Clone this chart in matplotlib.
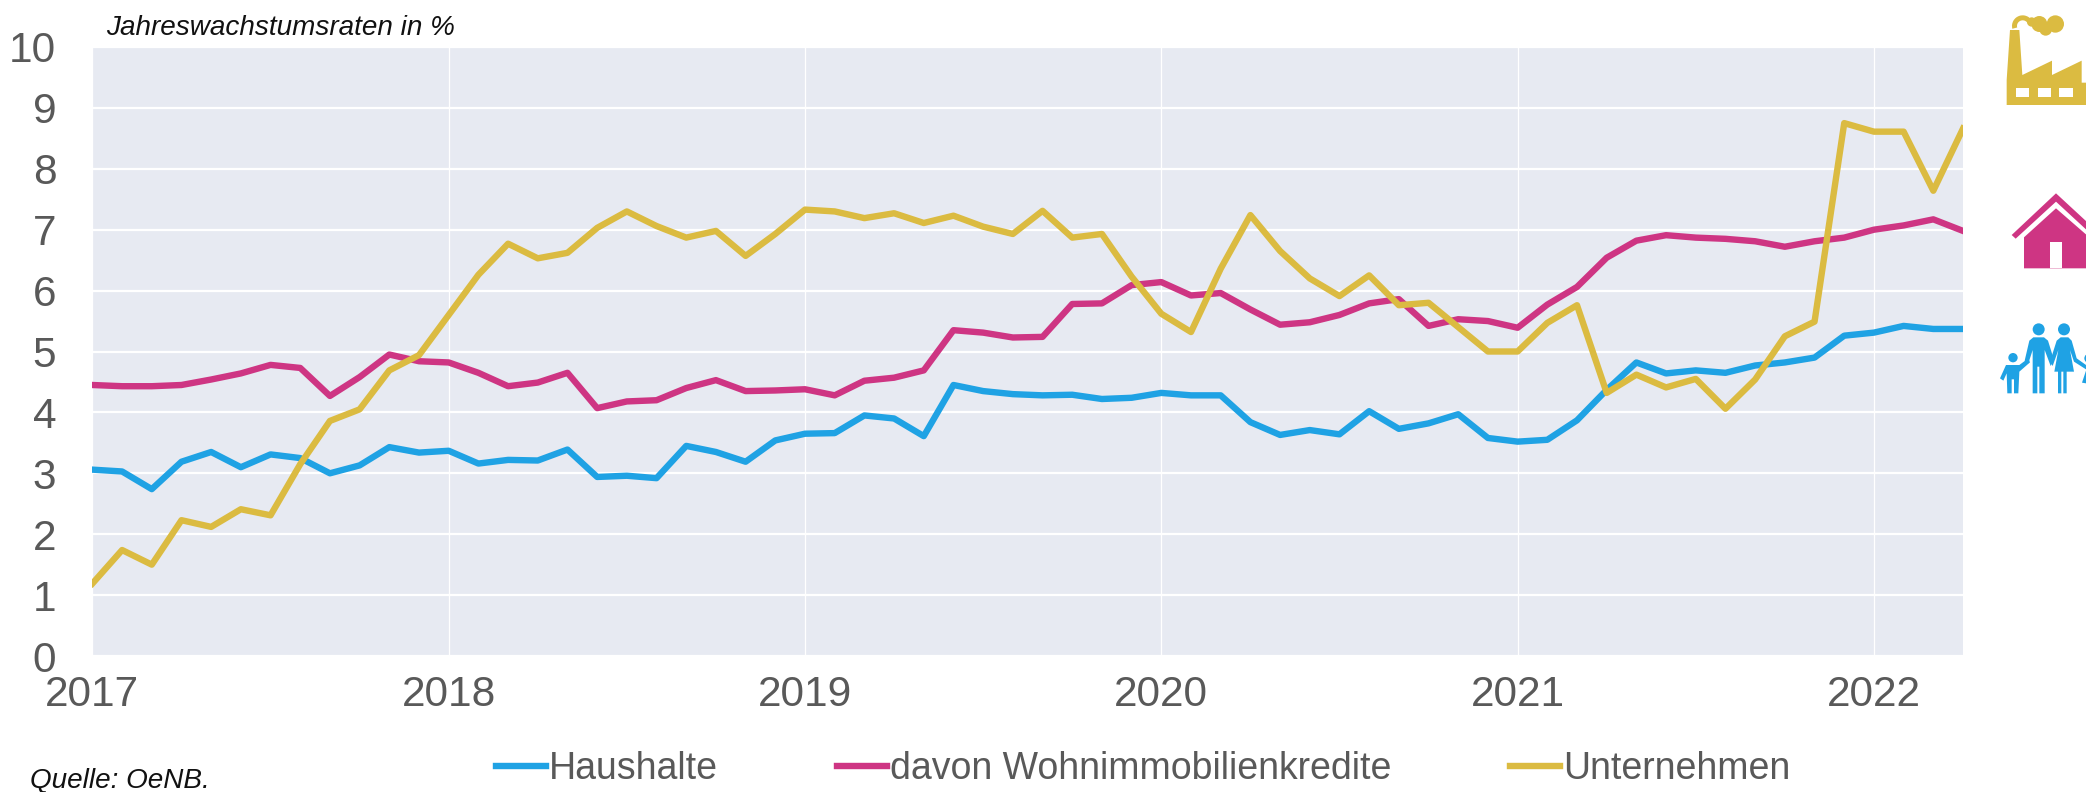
import matplotlib
matplotlib.use("Agg")
import matplotlib.pyplot as plt
from matplotlib.patches import Circle, Polygon, Rectangle, Wedge

plt.rcParams["font.family"] = ["Liberation Sans", "DejaVu Sans"]

jahre = ["2017", "2018", "2019", "2020", "2021", "2022"]

# Monatswerte Jan 2017 - Apr 2022
haushalte = [3.06, 3.03, 2.74, 3.19, 3.35, 3.10, 3.31, 3.25, 3.00, 3.13, 3.43, 3.34,
             3.37, 3.16, 3.22, 3.21, 3.39, 2.94, 2.96, 2.92, 3.45, 3.35, 3.19, 3.54,
             3.65, 3.66, 3.95, 3.90, 3.61, 4.45, 4.35, 4.30, 4.28, 4.29, 4.22, 4.24,
             4.32, 4.28, 4.28, 3.84, 3.63, 3.71, 3.64, 4.02, 3.73, 3.82, 3.97, 3.58,
             3.52, 3.55, 3.87, 4.37, 4.82, 4.64, 4.69, 4.65, 4.77, 4.82, 4.90, 5.26,
             5.31, 5.42, 5.37, 5.37]
wohnkredite = [4.45, 4.43, 4.43, 4.45, 4.54, 4.64, 4.78, 4.73, 4.27, 4.58, 4.95, 4.84,
               4.82, 4.65, 4.43, 4.49, 4.65, 4.07, 4.18, 4.20, 4.40, 4.53, 4.35, 4.36,
               4.38, 4.28, 4.52, 4.57, 4.69, 5.35, 5.31, 5.23, 5.24, 5.78, 5.79, 6.09,
               6.14, 5.92, 5.96, 5.69, 5.44, 5.48, 5.60, 5.79, 5.86, 5.42, 5.53, 5.50,
               5.39, 5.77, 6.06, 6.54, 6.82, 6.91, 6.87, 6.85, 6.81, 6.72, 6.81, 6.87,
               7.00, 7.07, 7.17, 6.98]
unternehmen = [1.19, 1.74, 1.50, 2.23, 2.12, 2.41, 2.31, 3.15, 3.86, 4.05, 4.69, 4.94,
               5.60, 6.26, 6.77, 6.53, 6.62, 7.03, 7.30, 7.06, 6.87, 6.98, 6.57, 6.93,
               7.33, 7.30, 7.19, 7.27, 7.11, 7.23, 7.05, 6.93, 7.31, 6.87, 6.93, 6.23,
               5.62, 5.32, 6.36, 7.24, 6.65, 6.20, 5.91, 6.25, 5.76, 5.80, 5.40, 5.00,
               5.00, 5.47, 5.76, 4.32, 4.62, 4.41, 4.55, 4.06, 4.54, 5.25, 5.49, 8.75,
               8.61, 8.61, 7.64, 8.66]

monate = list(range(len(haushalte)))

BLAU = "#1FA2E4"
PINK = "#CE3583"
GELB = "#DBBB41"
GRAU = "#595959"

fig = plt.figure(figsize=(20.86, 7.92), dpi=100)
ax = fig.add_axes([92.4 / 2086, 1 - 656 / 792, (1963 - 92.4) / 2086, (656 - 47) / 792])
ax.set_facecolor("#E7EAF2")

ax.plot(monate, haushalte, color=BLAU, linewidth=4.6, label="Haushalte")
ax.plot(monate, wohnkredite, color=PINK, linewidth=4.6, label="davon Wohnimmobilienkredite")
ax.plot(monate, unternehmen, color=GELB, linewidth=4.6, label="Unternehmen")

ax.set_xlim(0, monate[-1])
ax.set_ylim(0, 10)
ax.set_yticks(range(11))
ax.set_xticks(monate[::12])
ax.set_xticklabels(jahre)
ax.tick_params(length=0, labelsize=30.5, labelcolor=GRAU)
ax.tick_params(axis="x", pad=14)
ax.tick_params(axis="y", pad=26)
ax.grid(axis="y", color="white", linewidth=1.6)
ax.grid(axis="x", color="white", linewidth=0.9)
ax.set_axisbelow(True)
for s in ax.spines.values():
    s.set_visible(False)

fig.legend(loc="center", bbox_to_anchor=(1143 / 2086, 1 - 769 / 792), ncol=3, frameon=False,
           fontsize=27, labelcolor=GRAU, handlelength=1.33, handletextpad=0.08,
           columnspacing=3.17, borderpad=0, borderaxespad=0)

fig.text(106 / 2086, 1 - 28 / 792, "Jahreswachstumsraten in %", fontsize=20.1, style="italic",
         color="#111111", va="center")
fig.text(30 / 2086, 1 - 781 / 792, "Quelle: OeNB.", fontsize=20.1, style="italic",
         color="#111111", va="center")

# Symbole rechts, Koordinaten in Pixel des Bildes
deko = fig.add_axes([0, 0, 1, 1])
deko.set_xlim(0, 2086)
deko.set_ylim(792, 0)
deko.axis("off")


def px(punkte):
    return [(1900 + x / 3, y / 3) for x, y in punkte]


def flaeche(punkte, farbe):
    deko.add_patch(Polygon(px(punkte), closed=True, facecolor=farbe, edgecolor="none"))


def kreis(x, y, r, farbe):
    deko.add_patch(Circle((1900 + x / 3, y / 3), r / 3, facecolor=farbe, edgecolor="none"))


# Fabrik
flaeche([(320, 315), (320, 240), (330, 90), (358, 90), (367, 225), (456, 182), (456, 225),
         (545, 182), (545, 248), (558, 248), (558, 315)], GELB)
for x0 in [347, 413, 478]:
    deko.add_patch(Rectangle((1900 + x0 / 3, 263 / 3), 40 / 3, 29 / 3, facecolor="white", edgecolor="none"))
deko.add_patch(Wedge((1900 + 368 / 3, 78 / 3), 32 / 3, 165, 345, width=15 / 3, facecolor=GELB, edgecolor="none"))
kreis(418, 72, 24, GELB)
kreis(437, 88, 19, GELB)
kreis(466, 72, 26, GELB)
kreis(395, 66, 14, GELB)

# Haus
flaeche([(335, 705), (468, 580), (560, 665), (560, 690), (468, 605), (347, 716)], PINK)
flaeche([(372, 805), (372, 712), (468, 625), (560, 705), (560, 805)], PINK)
flaeche([(450, 727), (487, 727), (487, 805), (450, 805)], "white")

# Familie
kreis(416, 988, 18, BLAU)
kreis(492, 988, 18, BLAU)
kreis(339, 1073, 14, BLAU)
kreis(567, 1075, 14, BLAU)
flaeche([(318, 1095), (358, 1095), (385, 1075), (390, 1087), (358, 1115), (355, 1180), (342, 1180),
         (342, 1138), (335, 1138), (335, 1180), (322, 1180), (320, 1120), (310, 1142), (300, 1135)], BLAU)
flaeche([(388, 1022), (400, 1012), (432, 1012), (444, 1022), (462, 1080), (452, 1098), (434, 1050),
         (434, 1180), (418, 1180), (418, 1100), (412, 1100), (412, 1180), (398, 1180), (398, 1050),
         (385, 1090), (374, 1082)], BLAU)
flaeche([(470, 1022), (482, 1012), (505, 1012), (515, 1022), (530, 1075), (558, 1095), (558, 1108),
         (522, 1085), (510, 1050), (522, 1115), (500, 1115), (500, 1180), (490, 1180), (490, 1115),
         (484, 1115), (484, 1180), (474, 1180), (474, 1115), (463, 1115), (475, 1050), (458, 1098),
         (450, 1085)], BLAU)
flaeche([(546, 1148), (558, 1112), (558, 1150)], BLAU)

fig.savefig("out.png", dpi=100)
